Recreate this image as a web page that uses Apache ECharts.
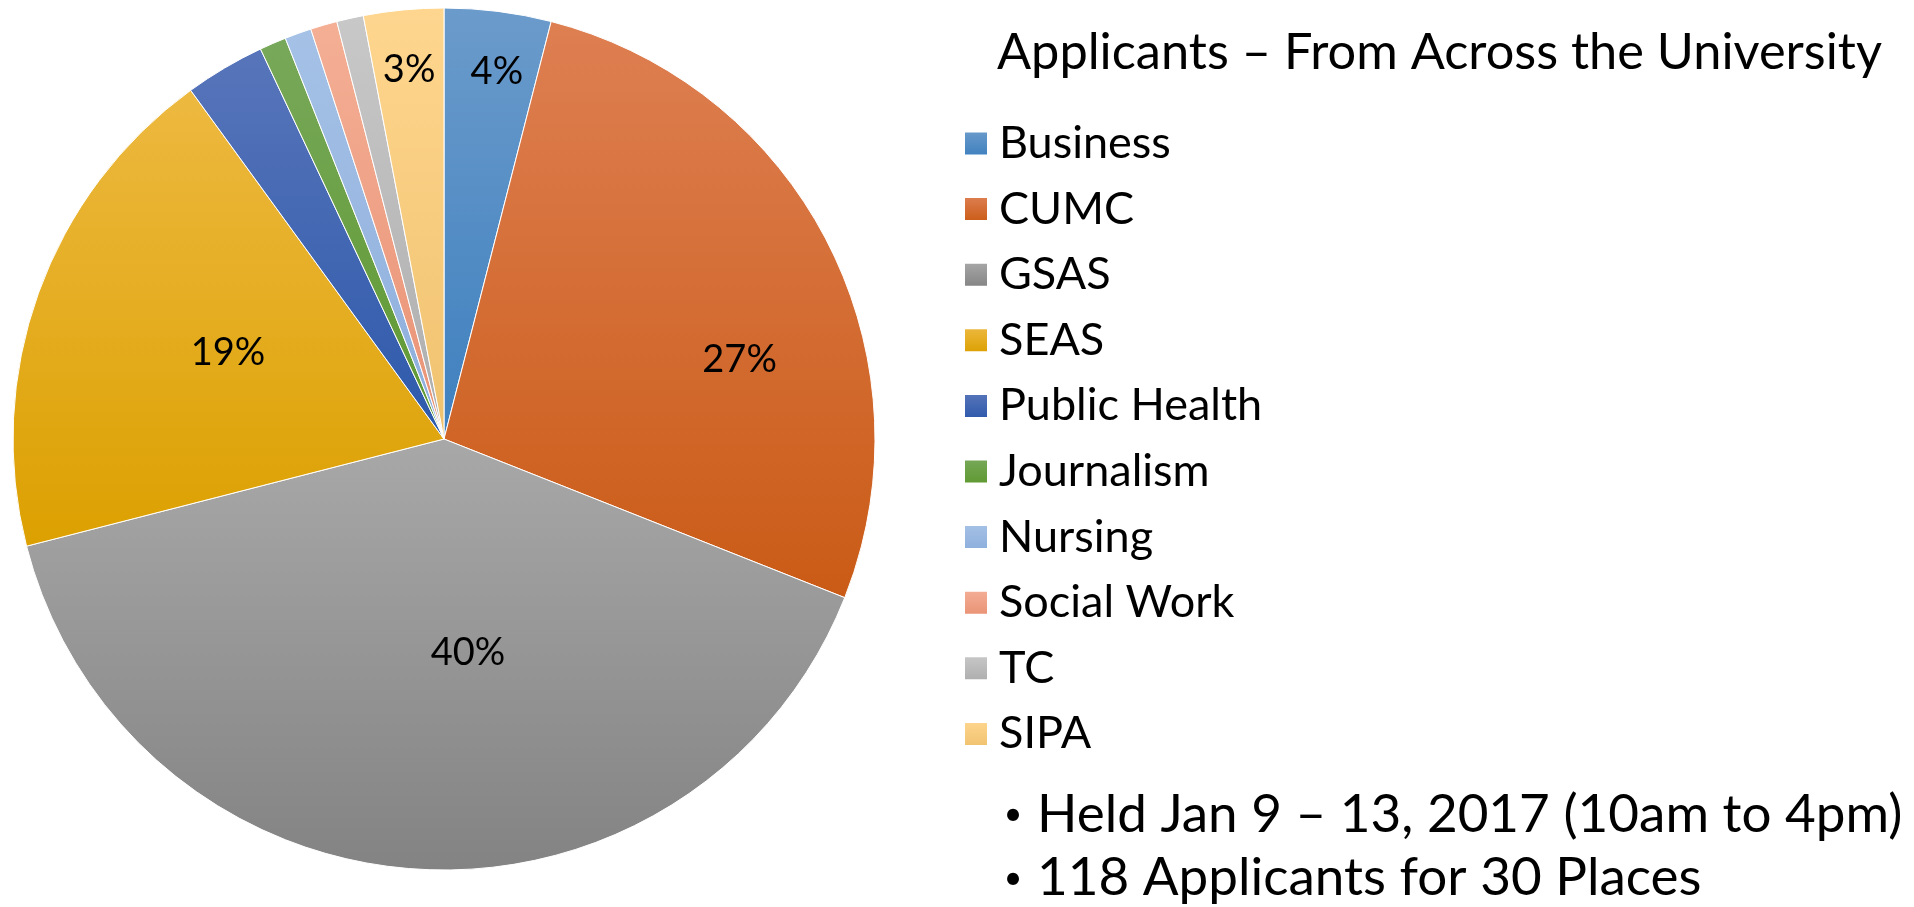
<!DOCTYPE html>
<html>
<head>
<meta charset="utf-8">
<title>Applicants - From Across the University</title>
<script src="https://cdn.jsdelivr.net/npm/echarts@6/dist/echarts.min.js"></script>
<style>
	* { margin: 0; padding: 0; border: 0; }
	html, body { width: 100%; height: 100%; background: #fff; }
	#main { width: 1914px; height: 907px; }
</style>
</head>
<body>
	<div id="main"></div>
	<script type="text/javascript">
		// schools and share of applicants (%)
		var schools = ['Business', 'CUMC', 'GSAS', 'SEAS', 'Public Health', 'Journalism', 'Nursing', 'Social Work', 'TC', 'SIPA'];
		var shares = [4, 27, 40, 19, 3, 1, 1, 1, 1, 3];
		var labelShown = [true, true, true, true, false, false, false, false, false, true];

		var titleText = 'Applicants \u2013 From Across the University';
		var bullets = ['Held Jan 9 \u2013 13, 2017 (10am to 4pm)', '118 Applicants for 30 Places'];

		// office style gradients, top -> bottom
		var colTop = ['#6B9BCB', '#DE7F52', '#A8A8A8', '#EDB940', '#5875BA', '#78A85A', '#A5C1E6', '#F4AF95', '#C8C8C8', '#FFD68F'];
		var colBottom = ['#3E80BF', '#CA5B16', '#838383', '#DCA000', '#2D59AB', '#5E9930', '#8DAEDC', '#E99275', '#ADADAD', '#EFC26E'];

		// where office put the % labels: fraction of radius, turn in degrees
		var labelRad = [0.86, 0.71, 0.5, 0.54, 0.6, 0.6, 0.6, 0.6, 0.6, 0.86];
		var labelTurn = [1, 12, -10, 2, 0, 0, 0, 0, 0, 0];

		var FONT = 'Lato, "Open Sans", sans-serif';
		var CX = 444, CY = 439, R = 431;

		var myChart = echarts.init(document.getElementById('main'));

		var pieData = [];
		for (var i = 0; i < schools.length; i++) {
			pieData.push({
				name: schools[i],
				value: shares[i],
				label: { show: labelShown[i] },
				itemStyle: {
					color: new echarts.graphic.LinearGradient(0, 0, 0, 1, [
						{ offset: 0, color: colTop[i] },
						{ offset: 1, color: colBottom[i] }
					])
				}
			});
		}

		var option = {
			animation: false,
			legend: {
				orient: 'vertical',
				left: 963,
				top: 121,
				padding: 0,
				itemWidth: 24,
				itemHeight: 24,
				itemGap: 20.6,
				icon: 'rect',
				selectedMode: false,
				data: schools,
				textStyle: {
					fontFamily: FONT,
					fontSize: 45,
					lineHeight: 45,
					color: '#000',
					padding: [0, 0, 0, 6]
				}
			},
			graphic: [
				{ type: 'text', left: 997, top: 27, style: { text: titleText, fontSize: 50.5, fontFamily: FONT, fill: '#000' } },
				{ type: 'text', x: 1013, y: 815, style: { text: '\u2022', fontSize: 32, fontFamily: FONT, fill: '#000', align: 'center', verticalAlign: 'middle' } },
				{ type: 'text', left: 1037, top: 788, style: { text: bullets[0], fontSize: 53, fontFamily: FONT, fill: '#000' } },
				{ type: 'text', x: 1013, y: 879, style: { text: '\u2022', fontSize: 32, fontFamily: FONT, fill: '#000', align: 'center', verticalAlign: 'middle' } },
				{ type: 'text', left: 1037, top: 851, style: { text: bullets[1], fontSize: 53, fontFamily: FONT, fill: '#000' } }
			],
			series: [{
				name: 'Applicants',
				type: 'pie',
				center: [CX, CY],
				radius: R,
				startAngle: 90,
				clockwise: true,
				avoidLabelOverlap: false,
				itemStyle: {
					borderColor: '#fff',
					borderWidth: 1
				},
				label: {
					position: 'inside',
					fontFamily: FONT,
					fontSize: 38,
					color: '#000',
					formatter: function (p) { return Math.round(p.percent) + '%'; }
				},
				labelLayout: function (p) {
					// start from the default inside spot (half radius, mid angle)
					var lx = p.labelRect.x + p.labelRect.width / 2;
					var ly = p.labelRect.y + p.labelRect.height / 2;
					var a = Math.atan2(ly - CY, lx - CX) + labelTurn[p.dataIndex] * Math.PI / 180;
					var f = labelRad[p.dataIndex] * R;
					return { dx: CX + f * Math.cos(a) - lx, dy: CY + f * Math.sin(a) - ly };
				},
				emphasis: { disabled: true },
				data: pieData
			}]
		};

		myChart.setOption(option);
	</script>
</body>
</html>
